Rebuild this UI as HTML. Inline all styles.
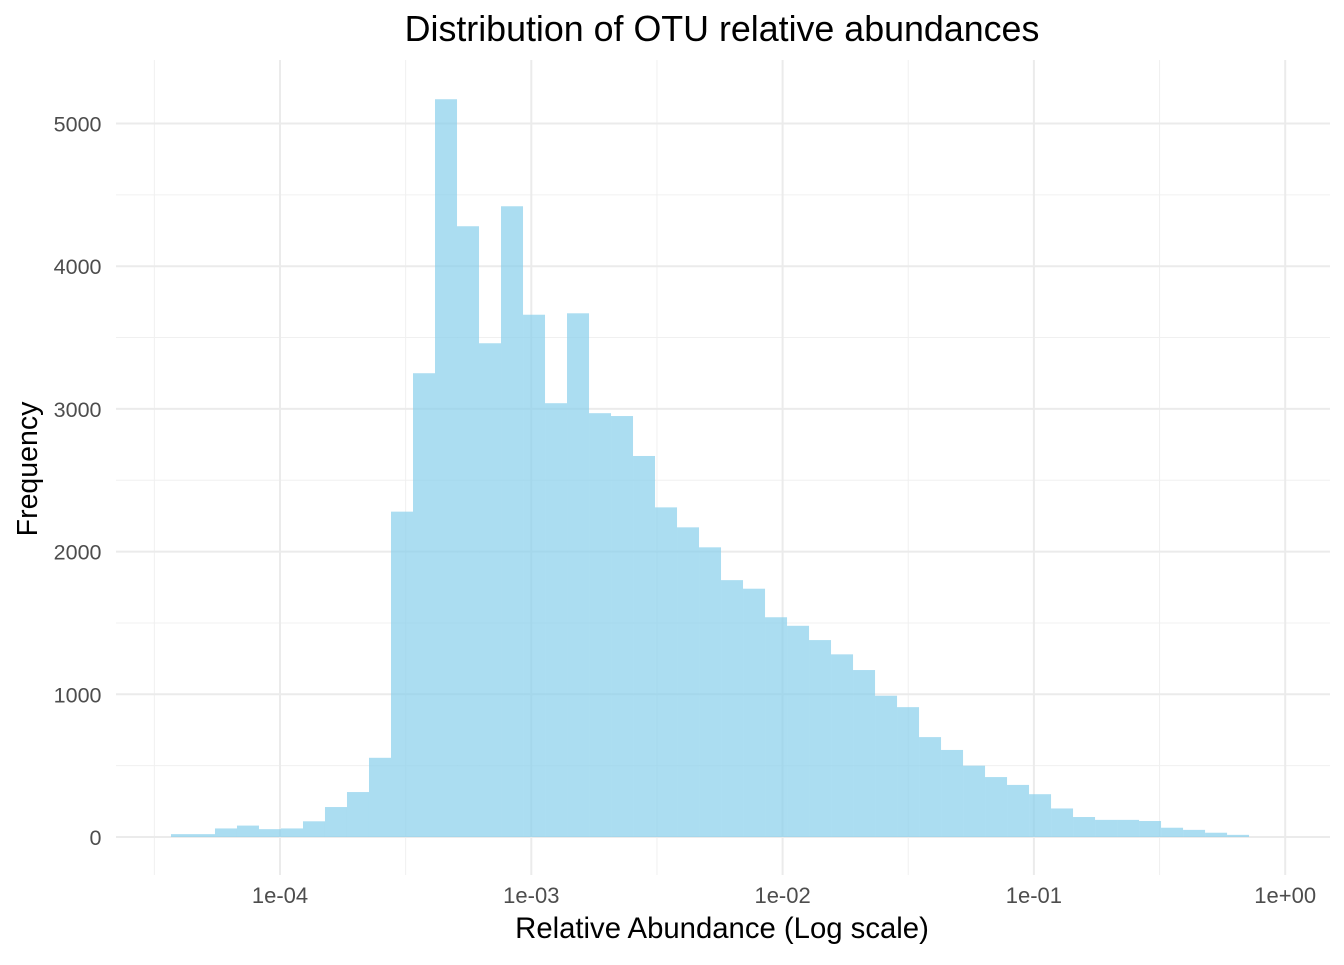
<!DOCTYPE html>
<html><head><meta charset="utf-8"><style>
body{margin:0;background:#fff;font-family:"Liberation Sans",sans-serif;}
svg text{font-family:"Liberation Sans",sans-serif;}
</style></head><body>
<svg id="chart" width="1344" height="960" xmlns="http://www.w3.org/2000/svg">
<text x="722" y="41" text-anchor="middle" font-size="35.8" fill="#000">Distribution of OTU relative abundances</text>
<text x="722" y="938" text-anchor="middle" font-size="29.3" fill="#000">Relative Abundance (Log scale)</text>
<text transform="translate(37,469) rotate(-90)" text-anchor="middle" font-size="28.5" fill="#000">Frequency</text>
<g id="grid"></g><g id="bars"></g><g id="ticks"></g>
</svg>
<script>
const counts=[20,20,60,80,55,60,110,210,315,555,2280,3250,5170,4280,3460,4420,3660,3040,3670,2970,2950,2670,2310,2170,2030,1800,1740,1540,1480,1380,1280,1170,990,910,700,610,500,420,365,300,200,140,120,120,112,65,50,30,15];
const binStartLog=[-4.4338];
const binWidthLog=[0.08755];
const xTickExps=[-4,-3,-2,-1,0];
const xTickLabels=["1e-04","1e-03","1e-02","1e-01","1e+00"];
const yTicks=[0,1000,2000,3000,4000,5000];

const NS="http://www.w3.org/2000/svg";
const L=116,R=1330,T=60,B=875;
function xs(lg){return 280+(lg+4)*251.3;}
function ys(v){return 837-v*0.1427;}
function mk(tag,attrs,parent){const e=document.createElementNS(NS,tag);for(const k in attrs)e.setAttribute(k,attrs[k]);parent.appendChild(e);return e;}
const grid=document.getElementById('grid'),bars=document.getElementById('bars'),ticks=document.getElementById('ticks');
for(let i=0;i<yTicks.length;i++){const v=yTicks[i]+500;if(ys(v)<T)continue;
 const l=mk('line',{x1:L,x2:R,y1:ys(v),y2:ys(v),stroke:'#f0f0f0','stroke-width':1},grid);
 
 }
for(let i=0;i<xTickExps.length;i++){const lg=xTickExps[i]-0.5;
 const l=mk('line',{x1:xs(lg),x2:xs(lg),y1:T,y2:B,stroke:'#f0f0f0','stroke-width':1},grid);
 
 }
for(let i=0;i<yTicks.length;i++){const y=ys(yTicks[i]);
 const l=mk('line',{x1:L,x2:R,y1:y,y2:y,stroke:'#ebebeb','stroke-width':2},grid);
 
 
 const t=mk('text',{x:101.5,y:y+8,'text-anchor':'end','font-size':21.5,fill:'#4d4d4d'},ticks);
 t.textContent=yTicks[i];
 
 }
for(let i=0;i<xTickExps.length;i++){const x=xs(xTickExps[i]);
 const l=mk('line',{x1:x,x2:x,y1:T,y2:B,stroke:'#ebebeb','stroke-width':2},grid);
 
 
 const t=mk('text',{x:x,y:903,'text-anchor':'middle','font-size':22,fill:'#4d4d4d'},ticks);
 t.textContent=xTickLabels[i];
 
 }
for(let i=0;i<counts.length;i++){
 const x0=xs(binStartLog[0]+i*binWidthLog[0]),x1=xs(binStartLog[0]+(i+1)*binWidthLog[0]);
 const r=mk('rect',{x:x0,y:ys(counts[i]),width:x1-x0,height:ys(0)-ys(counts[i]),fill:'#87ceeb','fill-opacity':0.7},bars);
 
 }
</script>
</body></html>
